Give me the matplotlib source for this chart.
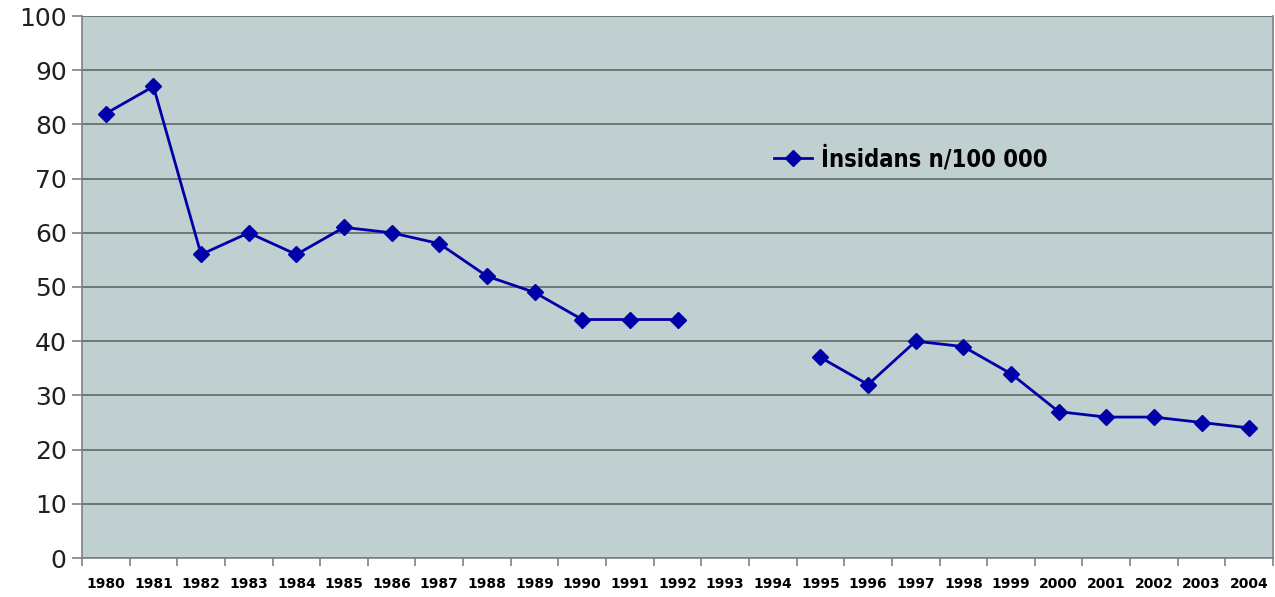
import numpy as np
import matplotlib.pyplot as plt

years = [str(y) for y in range(1980, 2005)]
insidans = [82, 87, 56, 60, 56, 61, 60, 58, 52, 49, 44, 44, 44,
            np.nan, np.nan, 37, 32, 40, 39, 34, 27, 26, 26, 25, 24]

fig = plt.figure(figsize=(12.75, 5.97), dpi=100)
ax = fig.add_axes([82 / 1275, 1 - 558 / 597, (1273 - 82) / 1275, (558 - 16) / 597])
ax.set_facecolor('#c0cfcf')

x = np.arange(len(years))
ax.plot(x, insidans, color='#0000a8', lw=2, marker='D', ms=8,
        label='İnsidans n/100 000', zorder=3)

ax.set_xlim(-0.5, len(years) - 0.5)
ax.set_ylim(0, 100)
ax.set_yticks(range(0, 101, 10))
ax.yaxis.grid(True, color='#687070', lw=1.3)
ax.set_axisbelow(True)

ax.set_xticks(x)
ax.set_xticklabels(years, fontsize=10, fontweight='bold')
ax.set_xticks(np.arange(-0.5, len(years)), minor=True)
ax.tick_params(axis='x', which='major', length=0, pad=14)
ax.tick_params(axis='x', which='minor', length=6, color='#808080', width=1.2)
ax.tick_params(axis='y', length=7, color='#808080', width=1.2, labelsize=18, pad=4,
               labelcolor='#202020')

for side in ['left', 'bottom', 'right']:
    ax.spines[side].set_color('#808080')
    ax.spines[side].set_linewidth(1.2)
ax.spines['top'].set_visible(False)

ax.legend(loc='upper left', bbox_to_anchor=(0.563, 0.80), frameon=False,
          prop={'family': 'DejaVu Sans', 'stretch': 'condensed', 'weight': 'bold', 'size': 17},
          handlelength=1.6, handletextpad=0.4)

fig.savefig('out.png')
